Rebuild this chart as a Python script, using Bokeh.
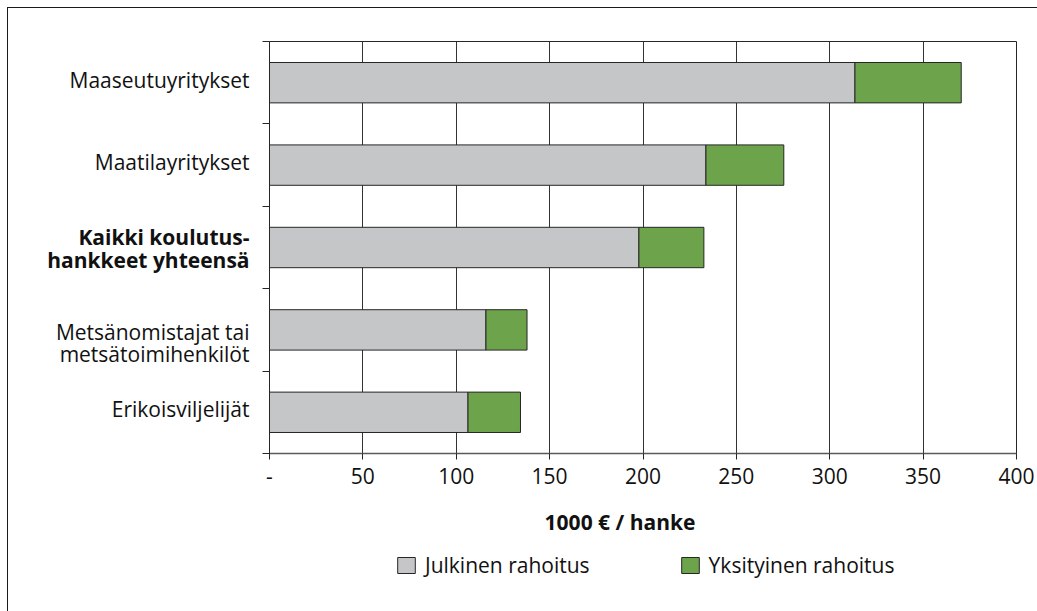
from bokeh.plotting import figure
from bokeh.layouts import row, column
from bokeh.models import (Range1d, FixedTicker, Legend, LegendItem, ColumnDataSource, Label)
from bokeh.embed import file_html
from bokeh.resources import INLINE

# ---- data ----
categories = [
    "Maaseutuyritykset",
    "Maatilayritykset",
    "Kaikki koulutus-\nhankkeet yhteensä",
    "Metsänomistajat tai\nmetsätoimihenkilöt",
    "Erikoisviljelijät",
]
public_funding = [313.5, 233.7, 197.8, 115.9, 106.3]
private_funding = [56.9, 41.7, 34.8, 22.0, 28.1]
bold_category = "Kaikki koulutus-\nhankkeet yhteensä"
x_ticks = [0, 50, 100, 150, 200, 250, 300, 350, 400]
x_tick_labels = ["-", "50", "100", "150", "200", "250", "300", "350", "400"]
series_names = ["Julkinen rahoitus", "Yksityinen rahoitus"]
axis_title = "1000 € / hanke"

# ---- style / layout ----
FONT = "Open Sans"
GRAY = "#C5C6C8"
GREEN = "#6DA44B"
LINE = "#262626"
TXT = "#111111"
SERIES_COLORS = [GRAY, GREEN]
W = 1029
H_TOP = 495       # chart part
H_BOT = 603 - H_TOP   # axis title + legend strip
WL = 242          # category-label strip width
TOP, BOTTOM = 33, 50

n = len(categories)
ypos = [n - i - 0.5 for i in range(n)]
label_shift = {"Metsänomistajat tai\nmetsätoimihenkilöt": 13, bold_category: 1}
src = ColumnDataSource(dict(
    y=ypos, cat=categories, pub=public_funding, pri=private_funding,
    style=["bold" if c == bold_category else "normal" for c in categories],
    dy=[label_shift.get(c, -3) for c in categories],
))
y_range = Range1d(0, n)

# ---- main chart ----
p = figure(width=W - WL, height=H_TOP, output_backend="svg", toolbar_location=None,
           x_range=Range1d(0, 400), y_range=y_range,
           min_border_left=19, min_border_right=21, min_border_top=TOP, min_border_bottom=BOTTOM)
p.outline_line_color = LINE
p.background_fill_color = "white"
p.border_fill_color = "white"

rs = p.hbar_stack(["pub", "pri"], y="y", height=0.49, source=src,
                  fill_color=SERIES_COLORS, line_color=LINE, line_width=1)

xa = p.xaxis[0]
xa.ticker = FixedTicker(ticks=x_ticks)
xa.major_label_overrides = {t: l for t, l in zip(x_ticks, x_tick_labels)}
xa.major_label_text_font = FONT
xa.major_label_text_font_size = "21px"
xa.major_label_text_color = TXT
xa.major_tick_in = 0
xa.major_tick_out = 6
xa.minor_tick_line_color = None
xa.major_tick_line_color = LINE
xa.axis_line_color = "#5a5a5a"
xa.axis_line_width = 1.5
xa.major_label_standoff = 8

ya = p.yaxis[0]
ya.ticker = FixedTicker(ticks=list(range(n + 1)))
ya.major_label_overrides = {i: "" for i in range(n + 1)}
ya.major_label_text_font_size = "0px"
ya.major_label_standoff = 0
ya.major_tick_in = 0
ya.major_tick_out = 7
ya.minor_tick_line_color = None
ya.major_tick_line_color = LINE
ya.axis_line_color = LINE

p.xgrid.ticker = FixedTicker(ticks=x_ticks[1:-1])
p.xgrid.grid_line_color = "#333333"
p.xgrid.grid_line_width = 1
p.ygrid.grid_line_color = None

# ---- category label strip (shares the y scale) ----
lab = figure(width=WL, height=H_TOP, output_backend="svg", toolbar_location=None,
             x_range=Range1d(0, WL), y_range=y_range,
             x_axis_location=None, y_axis_location=None,
             min_border_left=0, min_border_right=0, min_border_top=TOP, min_border_bottom=BOTTOM)
lab.outline_line_color = None
lab.xgrid.grid_line_color = None
lab.ygrid.grid_line_color = None
lab.text(x=WL - 1, y="y", text="cat", source=src, text_align="right", text_baseline="middle",
         text_font={"value": FONT}, text_font_size={"value": "21px"},
         text_font_style="style", y_offset="dy", text_color=TXT, text_line_height=0.79)

# ---- axis title + legend strip ----
leg = figure(width=W, height=H_BOT, output_backend="svg", toolbar_location=None,
             x_range=Range1d(0, W), y_range=Range1d(0, H_BOT),
             x_axis_location=None, y_axis_location=None,
             min_border_left=0, min_border_right=0, min_border_top=0, min_border_bottom=0)
leg.outline_line_color = None
leg.xgrid.grid_line_color = None
leg.ygrid.grid_line_color = None
leg.add_layout(Label(x=611.5, y=H_BOT - 18, text=axis_title, text_align="center",
                     text_baseline="middle", text_font=FONT, text_font_size="21px",
                     text_font_style="bold", text_color=TXT))
# legend proxies: one swatch per series, kept outside the visible strip
swatches = [leg.hbar(y=[-50], left=[0], right=[1], height=1,
                     fill_color=c, line_color=LINE, line_width=1)
            for c in SERIES_COLORS]
legend = Legend(items=[LegendItem(label=s, renderers=[r]) for s, r in zip(series_names, swatches)],
                orientation="horizontal", location=(387, 31.5),
                glyph_width=22, glyph_height=20, label_standoff=8, spacing=89,
                padding=0, margin=0, border_line_color=None, background_fill_alpha=0,
                label_text_font=FONT, label_text_font_size="21px", label_text_color=TXT,
                label_height=29)
leg.add_layout(legend, "center")

layout = column(row(lab, p, spacing=0), leg, spacing=0,
                styles={"margin-left": "7px", "margin-top": "7px",
                        "border-left": "1px solid #1a1a1a", "border-top": "1px solid #1a1a1a"})

open("out.html", "w").write(file_html(layout, INLINE))
